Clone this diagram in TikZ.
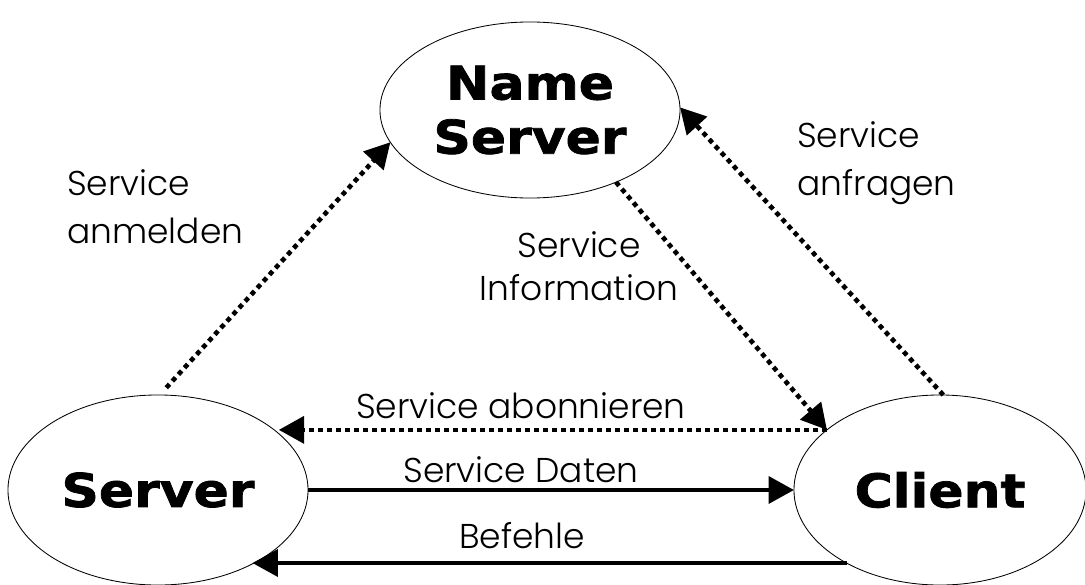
\documentclass[tikz,border=0pt]{standalone}
\usepackage{fontspec}
\newfontfamily\heavyfont{DejaVu Sans Bold}[FakeStretch=1.12, FakeBold=1.6]
\newfontfamily\thinfont{Poppins Light}
\usetikzlibrary{arrows.meta, shapes.geometric}

\begin{document}
\begin{tikzpicture}[
    x=0.025cm, y=-0.025cm,
    place/.style={draw, ellipse, line width=0.6pt, inner sep=0pt, outer sep=0pt,
        font=\heavyfont\fontsize{33}{38.5}\selectfont, align=center},
    msg/.style={-{Triangle[length=18pt, width=19pt]}, line width=3pt},
    notify/.style={msg, line width=3.3pt, dash pattern=on 3.4pt off 3pt},
    lbl/.style={font=\thinfont\fontsize{24.5}{34}\selectfont, inner sep=0pt}
]
\useasboundingbox (0,0) rectangle (1085,585);

% Stations
\node[place, minimum width=7.5cm, minimum height=4.4cm] (ns) at (530,110) {Name\\Server};
\node[place, minimum width=7.5cm, minimum height=4.75cm] (srv) at (158,490) {Server};
\node[place, minimum width=7.3cm, minimum height=4.75cm] (cli) at (940,490) {Client};

% Lookup traffic (dotted)
\draw[notify, shorten <=7pt] (srv.89) -- (ns.193);
\draw[notify] (cli.88) -- (ns.1);
\draw[notify] (ns.320) -- (cli.152);
\draw[notify] (cli.152) -- (srv.25 |- cli.152);

% Data and commands
\draw[msg] (srv.east) -- (cli.west);
\draw[msg] (cli.218) -- (srv.322 |- cli.218);

% Labels (base = last line)
\node[lbl, anchor=base west, align=left] (regLbl) at (67,243) {Service\\anmelden};
\node[lbl, anchor=base west, align=left] (askLbl) at (797,195) {Service\\anfragen};
\node[lbl, anchor=base, align=center] (infoLbl) at (579,300) {Service\\[-3.5pt]Information};
\node[lbl, anchor=base] (subLbl) at (521,418) {Service abonnieren};
\node[lbl, anchor=base] (dataLbl) at (521,482) {Service Daten};
\node[lbl, anchor=base] (cmdLbl) at (522,548) {Befehle};

\end{tikzpicture}
\end{document}
